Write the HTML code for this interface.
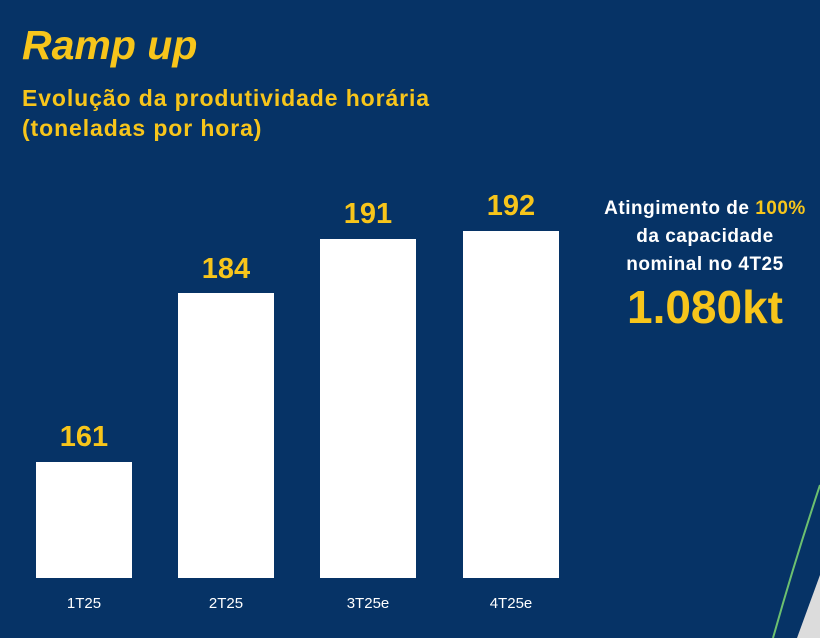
<!DOCTYPE html>
<html><head><meta charset="utf-8"><style>
body{margin:0;width:820px;height:638px;background:#063366;position:relative;overflow:hidden;font-family:"Liberation Sans",sans-serif;}
.t{position:absolute;color:#f7c51b;font-weight:bold;}
.bar{position:absolute;background:#fff;}
.v{position:absolute;color:#f7c51b;font-weight:bold;font-size:29px;text-align:center;width:96px;}
.x{position:absolute;color:#fff;font-size:15px;text-align:center;width:96px;top:595px;}
</style></head><body>
<div class="t" style="left:22px;top:22px;font-size:41px;font-style:italic;">Ramp up</div>
<div class="t" style="left:22px;top:83px;font-size:23px;line-height:30px;letter-spacing:0.9px;">Evolução da produtividade horária<br>(toneladas por hora)</div>
<div class="bar" style="left:36px;top:462px;width:96px;height:116px"></div>
<div class="bar" style="left:178px;top:293px;width:96px;height:285px"></div>
<div class="bar" style="left:320px;top:239px;width:96px;height:339px"></div>
<div class="bar" style="left:463px;top:231px;width:96px;height:347px"></div>
<div class="v" style="left:36px;top:421px">161</div>
<div class="v" style="left:178px;top:253px">184</div>
<div class="v" style="left:320px;top:198px">191</div>
<div class="v" style="left:463px;top:190px">192</div>
<div class="x" style="left:36px">1T25</div>
<div class="x" style="left:178px">2T25</div>
<div class="x" style="left:320px">3T25e</div>
<div class="x" style="left:463px">4T25e</div>
<div style="position:absolute;left:590px;top:195px;width:230px;text-align:center;color:#fff;font-weight:bold;font-size:19px;letter-spacing:0.5px;line-height:28px;">Atingimento de <span style="color:#f7c51b">100%</span><br>da capacidade<br>nominal no 4T25</div>
<div class="t" style="left:590px;top:280px;width:230px;text-align:center;font-size:46px;">1.080kt</div>
<svg style="position:absolute;left:0;top:0" width="820" height="638">
<polygon points="820,575 820,638 797,638" fill="#dcdcdc"/>
<path d="M820,485 Q795,560 773,638" stroke="#6cc070" stroke-width="2" fill="none"/>
</svg>
</body></html>
